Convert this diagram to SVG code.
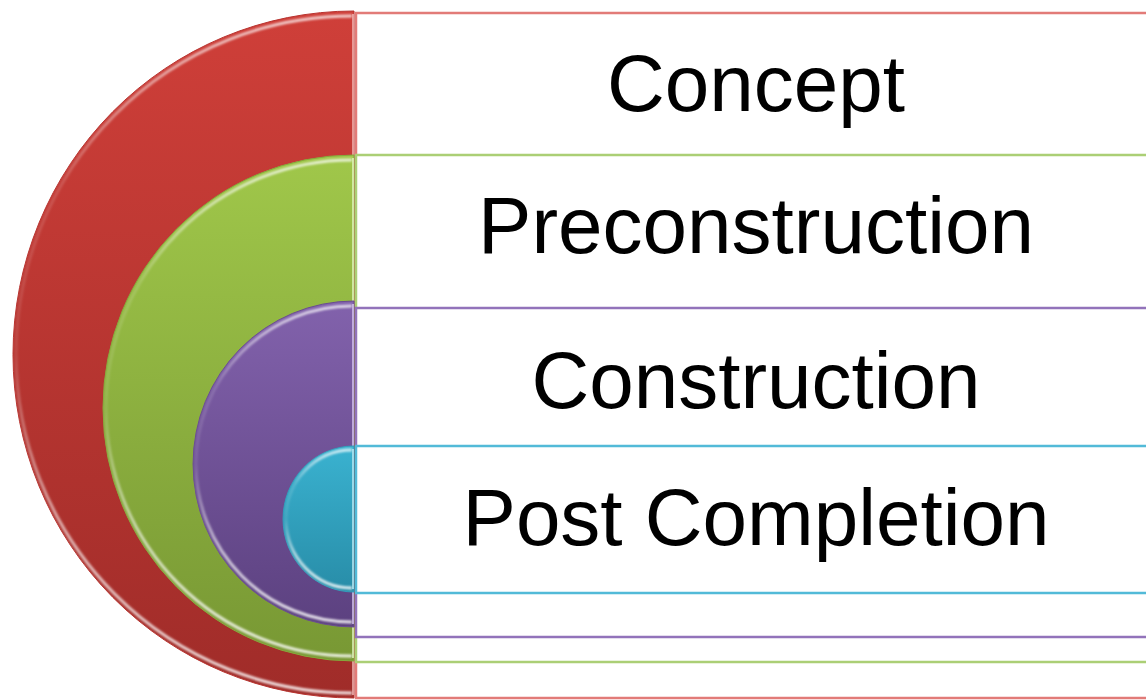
<svg xmlns="http://www.w3.org/2000/svg" width="1146" height="700" viewBox="0 0 1146 700">
  <defs>
    <linearGradient id="gRed" x1="0" y1="0" x2="0" y2="1">
      <stop offset="0" stop-color="#CF3F39"/>
      <stop offset="1" stop-color="#A02C29"/>
    </linearGradient>
    <linearGradient id="gGreen" x1="0" y1="0" x2="0" y2="1">
      <stop offset="0" stop-color="#A0C74A"/>
      <stop offset="1" stop-color="#789834"/>
    </linearGradient>
    <linearGradient id="gPurple" x1="0" y1="0" x2="0" y2="1">
      <stop offset="0" stop-color="#8262AC"/>
      <stop offset="1" stop-color="#5C4180"/>
    </linearGradient>
    <linearGradient id="gCyan" x1="0" y1="0" x2="0" y2="1">
      <stop offset="0" stop-color="#3AB2D0"/>
      <stop offset="1" stop-color="#288DA8"/>
    </linearGradient>
    <linearGradient id="gHl" x1="0" y1="0" x2="0" y2="1">
      <stop offset="0" stop-color="#FFFFFF" stop-opacity="0.75"/>
      <stop offset="0.25" stop-color="#FFFFFF" stop-opacity="0.15"/>
      <stop offset="0.5" stop-color="#FFFFFF" stop-opacity="0.1"/>
      <stop offset="0.75" stop-color="#FFFFFF" stop-opacity="0.6"/>
      <stop offset="1" stop-color="#FFFFFF" stop-opacity="0.85"/>
    </linearGradient>
    <filter id="soft" x="-5%" y="-5%" width="110%" height="110%">
      <feGaussianBlur stdDeviation="0.9"/>
    </filter>
  </defs>
  <style>
    .box { fill: #FFFFFF; stroke-width: 2.5; }
    .label { font-family: "Liberation Sans", Arial, sans-serif; font-size: 80px; fill: #000000; text-anchor: middle; }
    .hl { fill: none; stroke: url(#gHl); stroke-width: 3; filter: url(#soft); }
  </style>
  <rect width="1146" height="700" fill="#FFFFFF"/>

  <g id="row-concept">
    <rect class="box" x="356" y="13" width="800" height="685" stroke="#E27B78"/>
  </g>
  <g id="row-preconstruction">
    <rect class="box" x="356" y="155" width="800" height="507" stroke="#ABCF75"/>
  </g>
  <g id="row-construction">
    <rect class="box" x="356" y="308" width="800" height="329" stroke="#9273BA"/>
  </g>
  <g id="row-post">
    <rect class="box" x="356" y="446" width="800" height="147" stroke="#52BAD8"/>
  </g>

  <g id="arc-red">
    <path d="M354,11 A341,343.5 0 0 0 354,698 Z" fill="url(#gRed)" stroke="#B83430" stroke-width="1"/>
    <path class="hl" d="M352,16 A336,338.5 0 0 0 352,693"/>
    <line x1="353" y1="14" x2="353" y2="695" stroke="#F2B8B6" stroke-width="1.5"/>
  </g>
  <g id="arc-green">
    <path d="M354,155 A251,253 0 0 0 354,661 Z" fill="url(#gGreen)" stroke="#86A83C" stroke-width="1"/>
    <path class="hl" d="M352,160 A246,248 0 0 0 352,656"/>
    <line x1="353" y1="158" x2="353" y2="658" stroke="#E4F5C2" stroke-width="1.5"/>
  </g>
  <g id="arc-purple">
    <path d="M354,301 A161,163 0 0 0 354,627 Z" fill="url(#gPurple)" stroke="#6A4C92" stroke-width="1"/>
    <path class="hl" d="M352,306 A156,158 0 0 0 352,622"/>
    <line x1="353" y1="304" x2="353" y2="624" stroke="#D8C8EE" stroke-width="1.5"/>
  </g>
  <g id="arc-cyan">
    <path d="M354,446 A71,73 0 0 0 354,592 Z" fill="url(#gCyan)" stroke="#2F9DBB" stroke-width="1"/>
    <path class="hl" d="M352,450 A66,69 0 0 0 352,588"/>
    <line x1="353" y1="449" x2="353" y2="589" stroke="#BFEAF5" stroke-width="1.5"/>
  </g>

  <g id="labels">
    <text class="label" x="756" y="111">Concept</text>
    <text class="label" x="756" y="253">Preconstruction</text>
    <text class="label" x="756" y="408">Construction</text>
    <text class="label" x="756" y="545">Post Completion</text>
  </g>
</svg>
